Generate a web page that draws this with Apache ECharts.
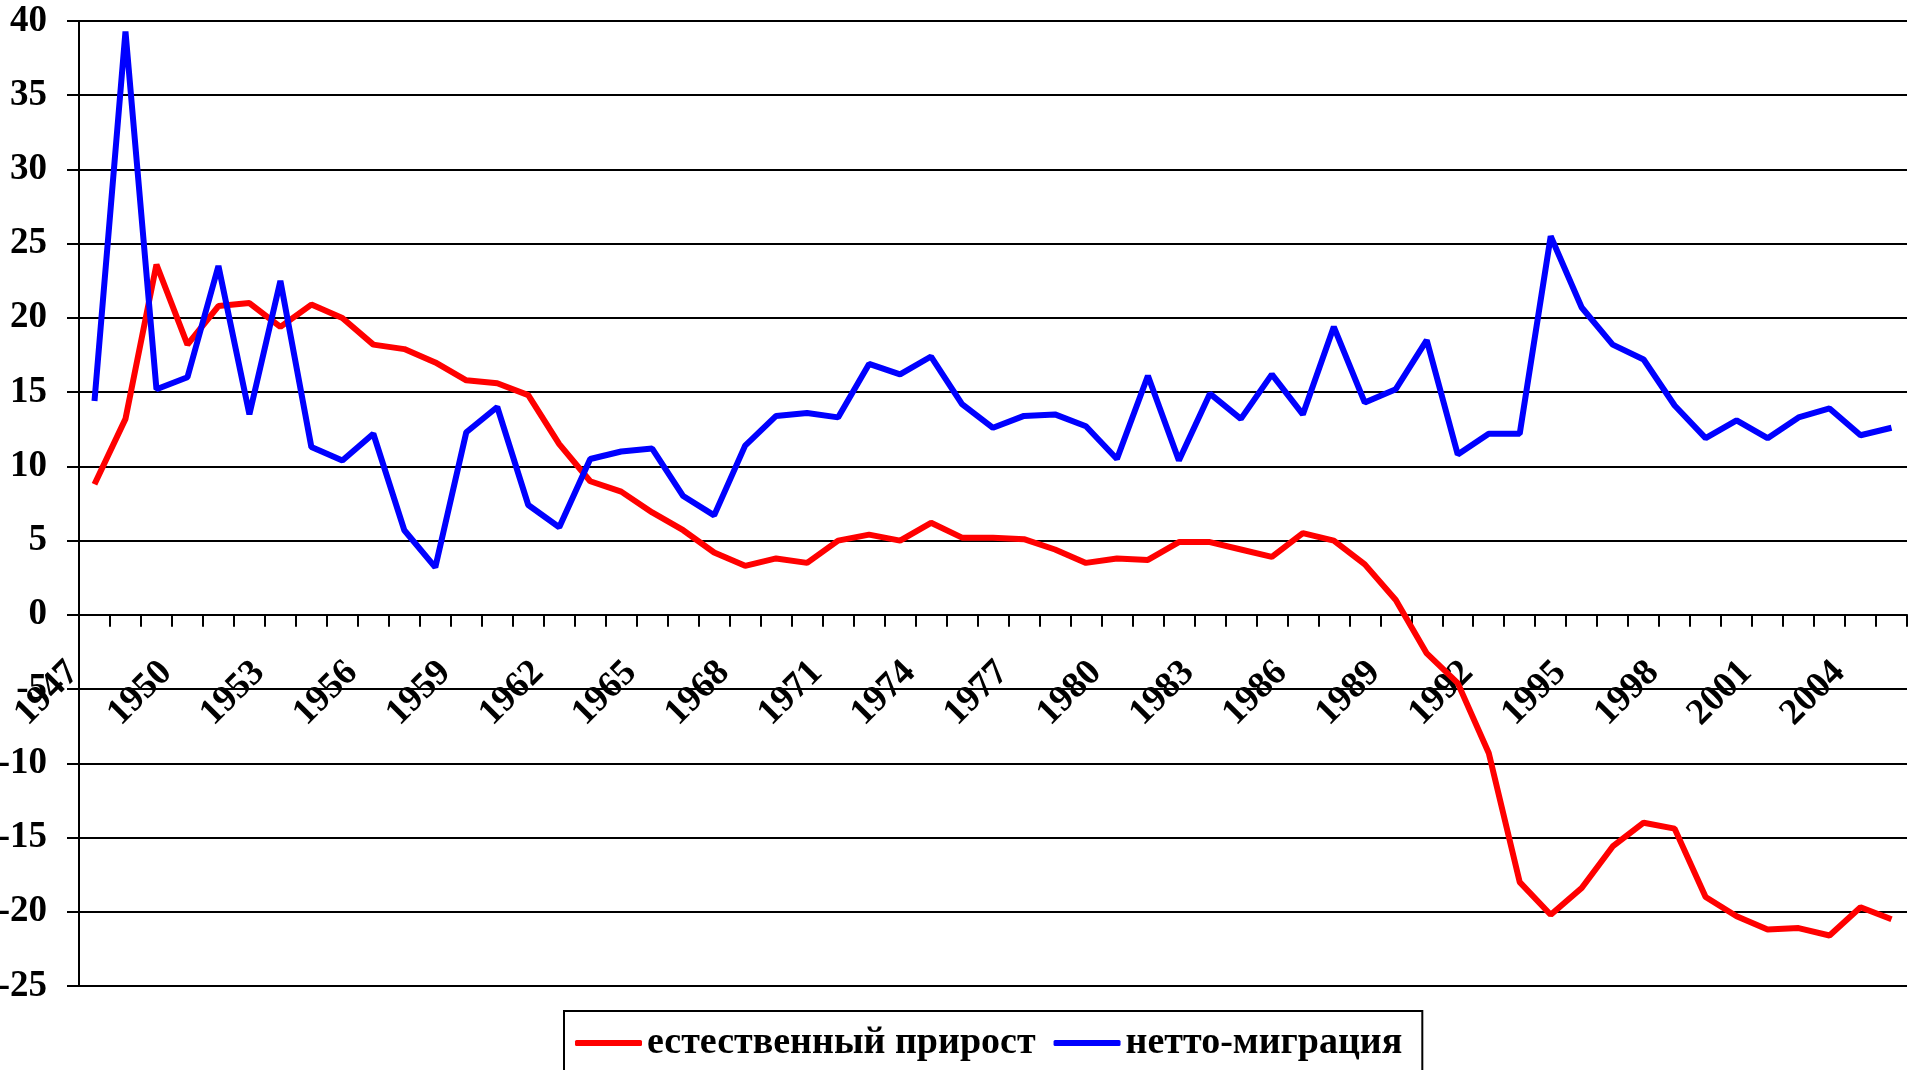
<!DOCTYPE html>
<html>
<head>
<meta charset="utf-8">
<title>естественный прирост и нетто-миграция</title>
<script src="https://cdn.jsdelivr.net/npm/echarts@6/dist/echarts.min.js"></script>
<style>
  html, body { margin: 0; padding: 0; background: #fff; }
  #chart { width: 1909px; height: 1070px; }
</style>
</head>
<body>
<div id="chart"></div>
<script>
// годы (ось X)
var years = ['1947', '1948', '1949', '1950', '1951', '1952', '1953', '1954', '1955', '1956',
  '1957', '1958', '1959', '1960', '1961', '1962', '1963', '1964', '1965', '1966',
  '1967', '1968', '1969', '1970', '1971', '1972', '1973', '1974', '1975', '1976',
  '1977', '1978', '1979', '1980', '1981', '1982', '1983', '1984', '1985', '1986',
  '1987', '1988', '1989', '1990', '1991', '1992', '1993', '1994', '1995', '1996',
  '1997', '1998', '1999', '2000', '2001', '2002', '2003', '2004', '2005']
// естественный прирост
var natural = [8.8, 13.2, 23.6, 18.2, 20.8, 21.0, 19.4, 20.9, 20.0, 18.2,
  17.9, 17.0, 15.8, 15.6, 14.8, 11.5, 9.0, 8.3, 6.9, 5.7,
  4.2, 3.3, 3.8, 3.5, 5.0, 5.4, 5.0, 6.2, 5.2, 5.2,
  5.1, 4.4, 3.5, 3.8, 3.7, 4.9, 4.9, 4.4, 3.9, 5.5,
  5.0, 3.4, 1.0, -2.6, -4.6, -9.3, -18.0, -20.2, -18.4, -15.6,
  -14.0, -14.4, -19.0, -20.3, -21.2, -21.1, -21.6, -19.7, -20.5]
// нетто-миграция
var migration = [14.4, 39.3, 15.2, 16.0, 23.5, 13.5, 22.5, 11.3, 10.4, 12.2,
  5.7, 3.2, 12.3, 14.0, 7.4, 5.9, 10.5, 11.0, 11.2, 8.0,
  6.7, 11.4, 13.4, 13.6, 13.3, 16.9, 16.2, 17.4, 14.2, 12.6,
  13.4, 13.5, 12.7, 10.5, 16.1, 10.4, 14.9, 13.2, 16.2, 13.5,
  19.4, 14.3, 15.2, 18.5, 10.8, 12.2, 12.2, 25.5, 20.7, 18.2,
  17.2, 14.1, 11.9, 13.1, 11.9, 13.3, 13.9, 12.1, 12.6]
// шкала Y
var yMin = -25
var yMax = 40
var yStep = 5

var font = 'Liberation Serif, Times New Roman, serif'

function drawChart (id) {
  let myChart = echarts.init(document.getElementById(id))
  let gridTop = 21
  let gridBottom = 84
  // ось X стоит на нуле: сдвигаем её вверх от низа сетки
  let plotH = 1070 - gridTop - gridBottom
  let zeroShift = plotH * (0 - yMin) / (yMax - yMin)
  let option = {
    animation: false,
    backgroundColor: '#fff',
    grid: {
      left: 79,
      right: 2,
      top: gridTop,
      bottom: gridBottom,
      containLabel: false,
      outerBoundsMode: 'none'
    },
    legend: {
      data: ['естественный прирост', 'нетто-миграция'],
      left: 564,
      top: 1011,
      orient: 'horizontal',
      icon: 'roundRect',
      itemWidth: 67,
      itemHeight: 6,
      itemGap: 18,
      padding: [11, 20, 10, 11],
      borderColor: '#000',
      borderWidth: 2,
      textStyle: {
        fontFamily: font,
        fontWeight: 'bold',
        fontSize: 38,
        lineHeight: 42,
        color: '#000'
      }
    },
    xAxis: {
      type: 'category',
      data: years,
      boundaryGap: true,
      position: 'bottom',
      offset: -zeroShift,
      axisLine: {
        onZero: false,
        lineStyle: { color: '#000', width: 2 }
      },
      axisTick: {
        show: true,
        interval: 0,
        length: 12,
        lineStyle: { color: '#000', width: 2 }
      },
      axisLabel: {
        interval: 2,
        rotate: 45,
        margin: 31,
        padding: [0, 30, 0, 0],
        fontFamily: font,
        fontWeight: 'bold',
        fontSize: 37,
        color: '#000'
      },
      splitLine: { show: false }
    },
    yAxis: {
      type: 'value',
      min: yMin,
      max: yMax,
      interval: yStep,
      axisLine: {
        show: true,
        lineStyle: { color: '#000', width: 2 }
      },
      axisTick: {
        show: true,
        length: 12,
        lineStyle: { color: '#000', width: 2 }
      },
      axisLabel: {
        margin: 32,
        fontFamily: font,
        fontWeight: 'bold',
        fontSize: 37,
        color: '#000'
      },
      splitLine: {
        show: true,
        lineStyle: { color: '#000', width: 2 }
      }
    },
    series: [{
      name: 'естественный прирост',
      type: 'line',
      data: natural,
      symbol: 'none',
      color: '#ff0000',
      lineStyle: { color: '#ff0000', width: 6 }
    }, {
      name: 'нетто-миграция',
      type: 'line',
      data: migration,
      symbol: 'none',
      color: '#0000ff',
      lineStyle: { color: '#0000ff', width: 6 }
    }]
  }
  myChart.setOption(option)
}

drawChart('chart')
</script>
</body>
</html>
